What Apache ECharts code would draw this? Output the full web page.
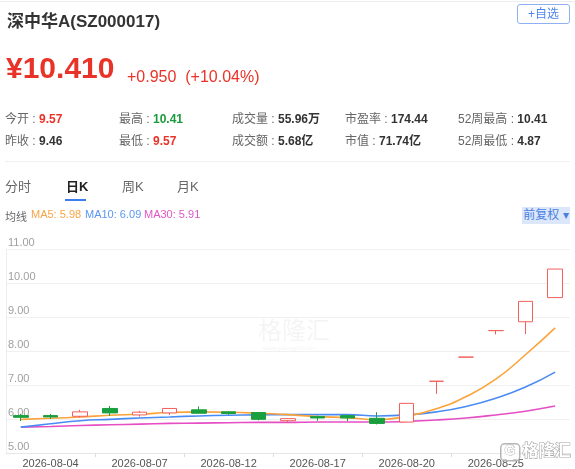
<!DOCTYPE html>
<html>
<head>
<meta charset="utf-8">
<script src="https://cdn.jsdelivr.net/npm/echarts@6/dist/echarts.min.js"></script>
<style>
  html, body { margin: 0; padding: 0; background: #fff; }
  body { width: 575px; height: 469px; position: relative; overflow: hidden;
         font-family: Arial, "Liberation Sans", "Noto Sans CJK SC", sans-serif; }
  #chart { position: absolute; left: 0; top: 0; width: 575px; height: 469px; }
  .abs { position: absolute; white-space: nowrap; }
  .topline { position: absolute; left: 0; top: 1px; width: 575px; height: 1px; background: #eeeeee; }
  .title { left: 7px; top: 7px; font-size: 17px; font-weight: bold; color: #333; }
  .btn { left: 517px; top: 4px; width: 51px; height: 18px; border: 1px solid #8fb0f3; border-radius: 3px;
         color: #4f86ec; font-size: 12px; line-height: 18px; text-align: center; }
  .price { left: 6px; top: 51px; font-size: 30px; font-weight: bold; color: #ea3328; }
  .chg { left: 127px; top: 68px; font-size: 16px; color: #ea3328; }
  .stat { font-size: 12px; color: #666; }
  .stat b { color: #333; }
  .red { color: #ea3328 !important; }
  .green { color: #1a9b3c !important; }
  .sep { position: absolute; left: 5px; top: 161px; width: 565px; height: 1px; background: #f0f0f0; }
  .tab { font-size: 13px; color: #666; top: 176px; }
  .tab.on { color: #222; font-weight: bold; }
  .uline { position: absolute; left: 65px; top: 199px; width: 21px; height: 2px; background: #3c7ef0; }
  .leg { top: 208px; font-size: 11px; }
  .fq { left: 522px; top: 207px; width: 48px; height: 17px; background: #dce7fb; color: #4a7fe0;
        font-size: 12px; line-height: 17px; text-align: center; }
</style>
</head>
<body>
<div id="chart"></div>
<div class="topline"></div>
<div class="abs title">深中华A(SZ000017)</div>
<div class="abs btn">+自选</div>
<div class="abs price">¥10.410</div>
<div class="abs chg">+0.950&nbsp;&nbsp;(+10.04%)</div>

<div class="abs stat" style="left:5px;top:109px">今开 : <b class="red">9.57</b></div>
<div class="abs stat" style="left:119px;top:109px">最高 : <b class="green">10.41</b></div>
<div class="abs stat" style="left:232px;top:109px">成交量 : <b>55.96万</b></div>
<div class="abs stat" style="left:345px;top:109px">市盈率 : <b>174.44</b></div>
<div class="abs stat" style="left:458px;top:109px">52周最高 : <b>10.41</b></div>
<div class="abs stat" style="left:5px;top:131px">昨收 : <b>9.46</b></div>
<div class="abs stat" style="left:119px;top:131px">最低 : <b class="red">9.57</b></div>
<div class="abs stat" style="left:232px;top:131px">成交额 : <b>5.68亿</b></div>
<div class="abs stat" style="left:345px;top:131px">市值 : <b>71.74亿</b></div>
<div class="abs stat" style="left:458px;top:131px">52周最低 : <b>4.87</b></div>
<div class="sep"></div>

<div class="abs tab" style="left:5px">分时</div>
<div class="abs tab on" style="left:66px">日K</div>
<div class="abs tab" style="left:122px">周K</div>
<div class="abs tab" style="left:177px">月K</div>
<div class="uline"></div>

<div class="abs leg" style="left:5px;color:#666">均线</div>
<div class="abs leg" style="left:31px;color:#f9a545">MA5: 5.98</div>
<div class="abs leg" style="left:85px;color:#5b96f3">MA10: 6.09</div>
<div class="abs leg" style="left:144px;color:#e257c6">MA30: 5.91</div>
<div class="abs fq">前复权 ▾</div>

<script>
// ---- data ----
const dates = ['2026-08-03','2026-08-04','2026-08-05','2026-08-06','2026-08-07','2026-08-10','2026-08-11',
  '2026-08-12','2026-08-13','2026-08-14','2026-08-17','2026-08-18','2026-08-19','2026-08-20','2026-08-21',
  '2026-08-24','2026-08-25','2026-08-26','2026-08-27'];
const openP  = [6.10, 6.10, 6.08, 6.31, 6.12, 6.18, 6.27, 6.21, 6.19, 5.95, 6.07, 6.10, 6.02, 5.91, 7.11, 7.82, 8.60, 8.86, 9.57];
const closeP = [6.05, 6.06, 6.21, 6.18, 6.20, 6.31, 6.17, 6.16, 5.99, 6.01, 6.03, 6.03, 5.87, 6.46, 7.11, 7.82, 8.60, 9.46, 10.41];
const lowP   = [5.94, 6.00, 6.04, 6.09, 6.07, 6.12, 6.16, 6.12, 5.96, 5.89, 5.95, 5.94, 5.84, 5.91, 6.74, 7.82, 8.49, 8.50, 9.57];
const highP  = [6.15, 6.15, 6.27, 6.38, 6.24, 6.31, 6.37, 6.21, 6.19, 6.02, 6.10, 6.10, 6.20, 6.46, 7.11, 7.82, 8.60, 9.46, 10.41];
const ma5  = [5.99, 6.02, 6.06, 6.11, 6.14, 6.19, 6.21, 6.20, 6.17, 6.13, 6.07, 6.04, 5.98, 6.08, 6.30, 6.66, 7.17, 7.89, 8.68];
const ma10 = [5.76, 5.86, 5.95, 5.99, 6.03, 6.06, 6.09, 6.11, 6.12, 6.13, 6.13, 6.13, 6.09, 6.12, 6.21, 6.37, 6.61, 6.94, 7.38];
const ma30 = [5.76, 5.78, 5.81, 5.83, 5.85, 5.87, 5.88, 5.89, 5.90, 5.90, 5.91, 5.91, 5.91, 5.93, 5.97, 6.03, 6.12, 6.23, 6.38];
const yTicks = [5, 6, 7, 8, 9, 10, 11];

const kData = dates.map((d, i) => [openP[i], closeP[i], lowP[i], highP[i]]);
const FONT = 'Arial, "Liberation Sans", "Noto Sans CJK SC", sans-serif';

const chart = echarts.init(document.getElementById('chart'), null, { renderer: 'canvas' });
chart.setOption({
  animation: false,
  grid: { left: 6, right: 5, top: 249, bottom: 16 },
  xAxis: {
    type: 'category', data: dates, boundaryGap: true,
    axisLine: { show: true, lineStyle: { color: '#e6e6e6' } },
    axisTick: { show: true, length: 4, lineStyle: { color: '#dcdcdc' },
      interval: (i) => i % 3 === 0 && i > 0 },
    axisLabel: { color: '#555', fontSize: 11, fontFamily: FONT, margin: 5,
      interval: (i) => i % 3 === 1 },
    splitLine: { show: false }
  },
  yAxis: {
    type: 'value', min: yTicks[0], max: yTicks[yTicks.length - 1], interval: 1,
    axisLine: { show: true, lineStyle: { color: '#eeeeee' } },
    axisTick: { show: false },
    axisLabel: { inside: true, color: '#a0a0a0', fontSize: 11, fontFamily: FONT,
      verticalAlign: 'bottom', margin: 2, padding: [0, 0, 1, 0],
      formatter: (v) => v.toFixed(2) },
    splitLine: { show: true, lineStyle: { color: '#f0f0f0' } }
  },
  graphic: [
    { type: 'text', left: 258, top: 318, z: 0, silent: true,
      style: { text: '格隆汇', fill: 'rgba(0,0,0,0.045)', font: '24px "Noto Sans CJK SC", sans-serif' } },
    { type: 'text', left: 263, top: 345, z: 0, silent: true,
      style: { text: 'www.gelonghui.com', fill: 'rgba(0,0,0,0.06)', font: '6px Arial, sans-serif' } },
    { type: 'rect', left: 500, top: 443, z: 10, silent: true,
      shape: { width: 19, height: 17, r: 4 },
      style: { fill: 'rgba(255,255,255,0.6)', stroke: '#b5b5b5', lineWidth: 1.5 } },
    { type: 'text', left: 504, top: 444, z: 11, silent: true,
      style: { text: 'G', fill: '#fff', stroke: '#b5b5b5', lineWidth: 1, font: 'bold 14px Arial, sans-serif' } },
    { type: 'text', left: 522, top: 441, z: 11, silent: true,
      style: { text: '格隆汇', fill: '#ffffff', stroke: '#a8a8a8', lineWidth: 1.2,
        font: 'bold 16px "Noto Sans CJK SC", sans-serif' } }
  ],
  series: [
    { name: 'MA30', type: 'line', data: ma30, smooth: true, symbol: 'none',
      lineStyle: { color: '#e64ec4', width: 1.6 }, z: 2 },
    { name: 'MA10', type: 'line', data: ma10, smooth: true, symbol: 'none',
      lineStyle: { color: '#4a8cf4', width: 1.6 }, z: 2 },
    { name: 'MA5', type: 'line', data: ma5, smooth: true, symbol: 'none',
      lineStyle: { color: '#fba33a', width: 1.6 }, z: 2 },
    { name: 'K', type: 'candlestick', data: kData, barWidth: 15, z: 3,
      itemStyle: { color: '#ffffff', color0: '#1a9f3e', borderColor: '#f2605a', borderColor0: '#1a9f3e', borderWidth: 1 } }
  ]
});
</script>
</body>
</html>
